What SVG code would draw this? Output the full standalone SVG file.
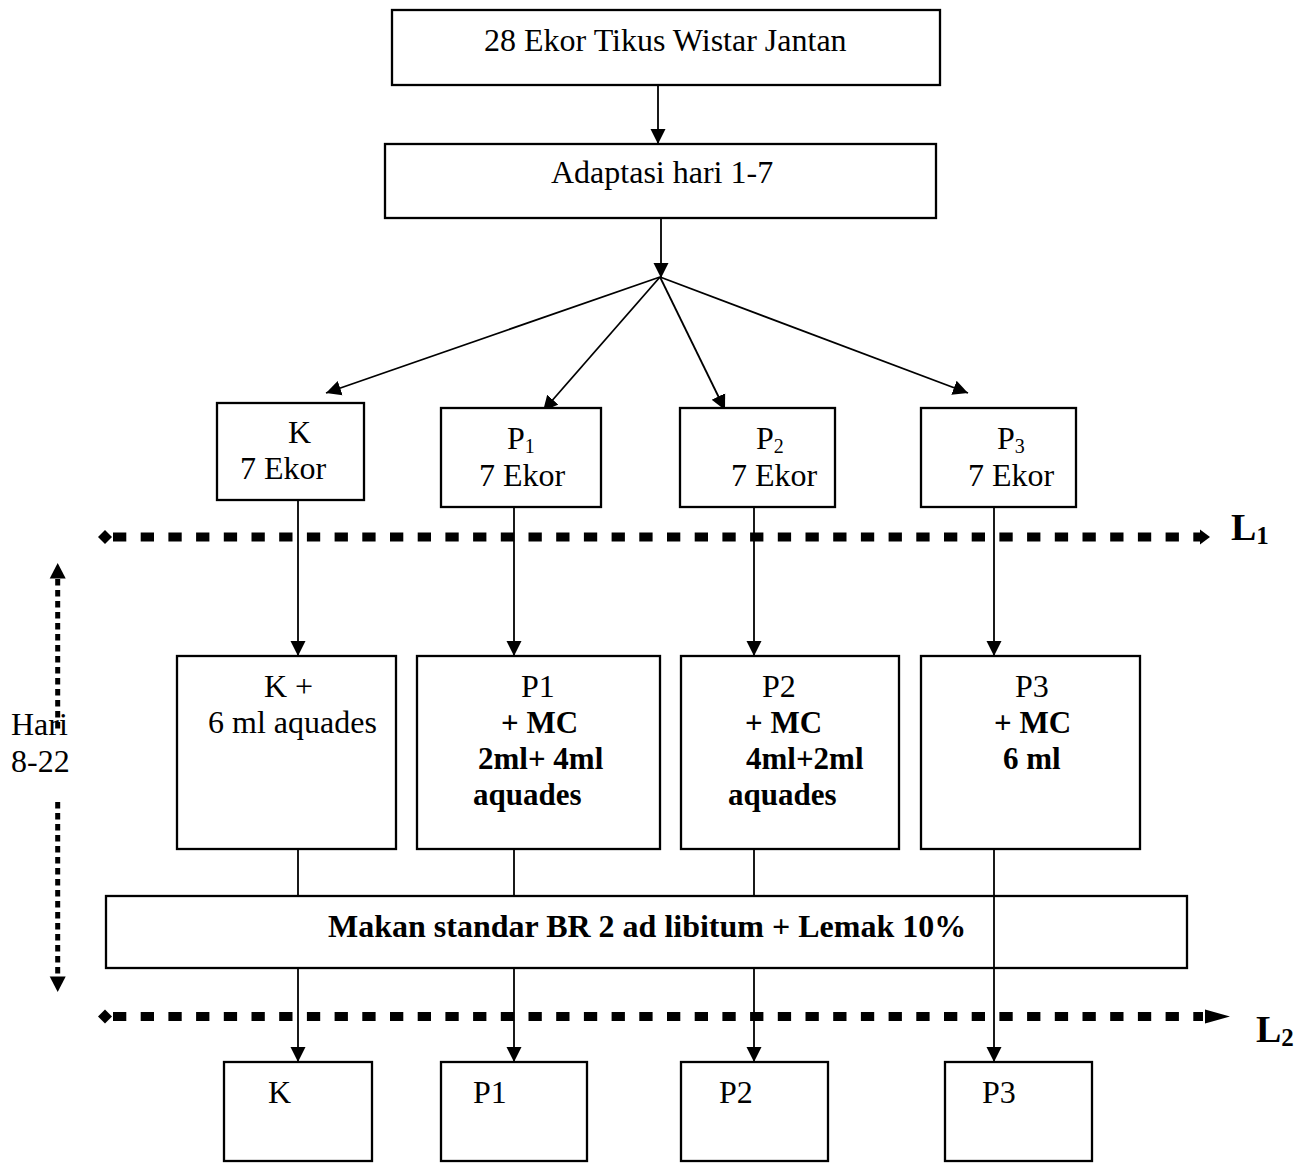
<svg xmlns="http://www.w3.org/2000/svg" width="1304" height="1163" viewBox="0 0 1304 1163">
  <style>
    .box { fill: #fff; stroke: #000; stroke-width: 2.3; }
    .ln { fill: none; stroke: #000; stroke-width: 1.8; }
    .dash { fill: none; stroke: #000; stroke-width: 9; stroke-dasharray: 13.3 14.4; }
    .dot { fill: none; stroke: #000; stroke-width: 5; stroke-dasharray: 6.5 4.5; }
    text { font-family: "Liberation Serif", "Times New Roman", serif; font-size: 32px; fill: #000; }
    .b { font-weight: bold; font-size: 31px; }
    .sub { font-size: 20px; }
    .big { font-size: 38px; font-weight: bold; }
    .bigsub { font-size: 25px; font-weight: bold; }
  </style>
  <defs>
    <marker id="arrow" markerUnits="userSpaceOnUse" markerWidth="16" markerHeight="16" refX="15" refY="8" orient="auto">
      <path d="M0,0.5 L15,8 L0,15.5 Z" fill="#000"/>
    </marker>
  </defs>

  <rect width="1304" height="1163" fill="#fff"/>

  <!-- connectors -->
  <g id="connectors">
    <line class="ln" x1="658" y1="85" x2="658" y2="144" marker-end="url(#arrow)"/>
    <line class="ln" x1="661" y1="218" x2="661" y2="278" marker-end="url(#arrow)"/>
    <line class="ln" x1="660" y1="277" x2="326" y2="393" marker-end="url(#arrow)"/>
    <line class="ln" x1="660" y1="277" x2="543" y2="411" marker-end="url(#arrow)"/>
    <line class="ln" x1="660" y1="277" x2="725" y2="410" marker-end="url(#arrow)"/>
    <line class="ln" x1="660" y1="277" x2="968" y2="393" marker-end="url(#arrow)"/>

    <line class="ln" x1="298" y1="500" x2="298" y2="656" marker-end="url(#arrow)"/>
    <line class="ln" x1="514" y1="507" x2="514" y2="656" marker-end="url(#arrow)"/>
    <line class="ln" x1="754" y1="507" x2="754" y2="656" marker-end="url(#arrow)"/>
    <line class="ln" x1="994" y1="507" x2="994" y2="656" marker-end="url(#arrow)"/>

    <line class="ln" x1="298" y1="849" x2="298" y2="896"/>
    <line class="ln" x1="514" y1="849" x2="514" y2="896"/>
    <line class="ln" x1="754" y1="849" x2="754" y2="896"/>

    <line class="ln" x1="298" y1="968" x2="298" y2="1062" marker-end="url(#arrow)"/>
    <line class="ln" x1="514" y1="968" x2="514" y2="1062" marker-end="url(#arrow)"/>
    <line class="ln" x1="754" y1="968" x2="754" y2="1062" marker-end="url(#arrow)"/>
  </g>

  <!-- stage boundaries L1 / L2 -->
  <g id="boundary-L1">
    <line class="dash" x1="113" y1="537" x2="1200" y2="537"/>
    <polygon points="105,530 112,537 105,544 98,537" fill="#000"/>
    <polygon points="1200,529.5 1210,537 1200,544.5" fill="#000"/>
    <text x="1231" y="540" class="big">L<tspan class="bigsub" dy="4">1</tspan></text>
  </g>
  <g id="boundary-L2">
    <line class="dash" x1="113" y1="1016.5" x2="1203" y2="1016.5"/>
    <polygon points="105,1009.5 112,1016.5 105,1023.5 98,1016.5" fill="#000"/>
    <polygon points="1205,1009.5 1230,1016.5 1205,1023.5" fill="#000"/>
    <text x="1256" y="1042" class="big">L<tspan class="bigsub" dy="4">2</tspan></text>
  </g>

  <!-- treatment period -->
  <g id="period">
    <line class="dot" x1="57.7" y1="579" x2="57.7" y2="732"/>
    <line class="dot" x1="57.7" y1="802" x2="57.7" y2="976"/>
    <polygon points="57.7,563 65.7,578.5 49.7,578.5" fill="#000"/>
    <polygon points="57.7,992 65.7,976.5 49.7,976.5" fill="#000"/>
    <text x="11" y="735">Hari</text>
    <text x="11" y="772">8-22</text>
  </g>

  <!-- nodes -->
  <g id="node-start">
    <rect class="box" x="392" y="10" width="548" height="75"/>
    <text x="484" y="51">28 Ekor Tikus Wistar Jantan</text>
  </g>
  <g id="node-adaptasi">
    <rect class="box" x="385" y="144" width="551" height="74"/>
    <text x="551" y="183">Adaptasi hari 1-7</text>
  </g>

  <g id="group-K">
    <rect class="box" x="217" y="403" width="147" height="97"/>
    <text x="288" y="443">K</text>
    <text x="240" y="479">7 Ekor</text>
  </g>
  <g id="group-P1">
    <rect class="box" x="441" y="408" width="160" height="99"/>
    <text x="507" y="449">P<tspan class="sub" dy="4">1</tspan></text>
    <text x="479" y="486">7 Ekor</text>
  </g>
  <g id="group-P2">
    <rect class="box" x="680" y="408" width="155" height="99"/>
    <text x="756" y="449">P<tspan class="sub" dy="4">2</tspan></text>
    <text x="731" y="486">7 Ekor</text>
  </g>
  <g id="group-P3">
    <rect class="box" x="921" y="408" width="155" height="99"/>
    <text x="997" y="449">P<tspan class="sub" dy="4">3</tspan></text>
    <text x="968" y="486">7 Ekor</text>
  </g>

  <g id="treat-K">
    <rect class="box" x="177" y="656" width="219" height="193"/>
    <text x="264" y="697">K +</text>
    <text x="208" y="733">6 ml aquades</text>
  </g>
  <g id="treat-P1">
    <rect class="box" x="417" y="656" width="243" height="193"/>
    <text x="521" y="697">P1</text>
    <text x="501" y="733" class="b">+ MC</text>
    <text x="478" y="769" class="b">2ml+ 4ml</text>
    <text x="473" y="805" class="b">aquades</text>
  </g>
  <g id="treat-P2">
    <rect class="box" x="681" y="656" width="218" height="193"/>
    <text x="762" y="697">P2</text>
    <text x="745" y="733" class="b">+ MC</text>
    <text x="746" y="769" class="b">4ml+2ml</text>
    <text x="728" y="805" class="b">aquades</text>
  </g>
  <g id="treat-P3">
    <rect class="box" x="921" y="656" width="219" height="193"/>
    <text x="1015" y="697">P3</text>
    <text x="994" y="733" class="b">+ MC</text>
    <text x="1003" y="769" class="b">6 ml</text>
  </g>

  <g id="feed">
    <rect class="box" x="106" y="896" width="1081" height="72"/>
    <text x="328" y="937" class="b" style="font-size:32px">Makan standar BR 2 ad libitum + Lemak 10%</text>
  </g>

  <!-- P3 line runs over the feed box -->
  <line class="ln" x1="994" y1="849" x2="994" y2="1062" marker-end="url(#arrow)"/>

  <g id="end-K">
    <rect class="box" x="224" y="1062" width="148" height="99"/>
    <text x="268" y="1103">K</text>
  </g>
  <g id="end-P1">
    <rect class="box" x="441" y="1062" width="146" height="99"/>
    <text x="473" y="1103">P1</text>
  </g>
  <g id="end-P2">
    <rect class="box" x="681" y="1062" width="147" height="99"/>
    <text x="719" y="1103">P2</text>
  </g>
  <g id="end-P3">
    <rect class="box" x="945" y="1062" width="147" height="99"/>
    <text x="982" y="1103">P3</text>
  </g>
</svg>
